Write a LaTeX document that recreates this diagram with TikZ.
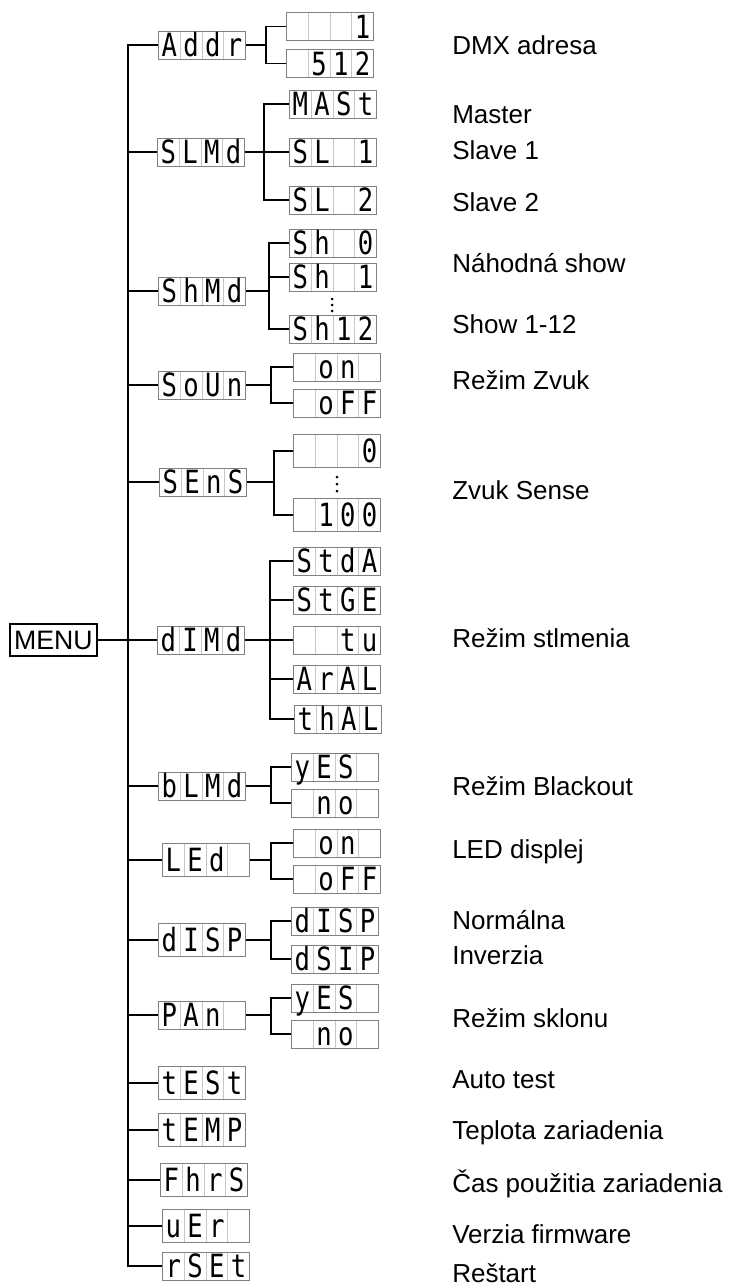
\documentclass[tikz,border=0pt]{standalone}
\usepackage{fontspec}
\setmainfont{Liberation Sans}
\newfontfamily\lcdfont[FakeStretch=0.8]{DejaVu Sans Mono}
\usepackage{tikz}
\usetikzlibrary{calc,positioning}

% one display: four cells, one character in each
\newcommand{\cells}[4]{\makebox[16.3pt]{#1}\makebox[16.3pt]{#2}\makebox[16.3pt]{#3}\makebox[16.3pt]{#4}}

\tikzset{
  lcd/.style={draw=black!50, line width=0.7pt, inner sep=0pt, anchor=west,
    minimum width=65.25pt, minimum height=21pt,
    font=\lcdfont\fontsize{24}{24}\selectfont, text height=18.2pt, text depth=0.7pt,
    path picture={
      \foreach \k in {1,2,3}
        \draw[black!22, line width=0.7pt]
          ($(path picture bounding box.south west)!\k/4!(path picture bounding box.south east)$) --
          ($(path picture bounding box.north west)!\k/4!(path picture bounding box.north east)$);
    }},
  tall/.style={minimum height=25pt},
  trunk/.style={line width=1.7pt, line join=miter},
  branch/.style={line width=1.2pt},
  lbl/.style={anchor=base west, inner sep=0pt, font=\fontsize{19.5}{23}\selectfont}
}

\begin{document}
\begin{tikzpicture}[x=0.75pt, y=-0.75pt]
  \useasboundingbox (0,0) rectangle (731,1288);

  \node[draw, line width=0.9pt, minimum width=65.25pt, minimum height=24pt, inner sep=0pt,
    font=\fontsize{20}{20}\selectfont] (MENU) at (53.5,640) {MENU};
  \coordinate (spine) at (128,0);

  % first level
  \node[lcd] (Addr) at (158,45) {\cells{A}{d}{d}{r}};
  \node[lcd] (SLMd) at (157,152) {\cells{S}{L}{M}{d}};
  \node[lcd] (ShMd) at (158,291) {\cells{S}{h}{M}{d}};
  \node[lcd] (SoUn) at (158,385) {\cells{S}{o}{U}{n}};
  \node[lcd] (SEnS) at (159,482) {\cells{S}{E}{n}{S}};
  \node[lcd] (dIMd) at (157,640) {\cells{d}{I}{M}{d}};
  \node[lcd] (bLMd) at (158,786) {\cells{b}{L}{M}{d}};
  \node[lcd,tall] (LEd) at (162,860) {\cells{L}{E}{d}{}};
  \node[lcd,tall] (dISP) at (158,940) {\cells{d}{I}{S}{P}};
  \node[lcd] (PAn) at (158,1015) {\cells{P}{A}{n}{}};
  \node[lcd,tall] (tESt) at (158,1083) {\cells{t}{E}{S}{t}};
  \node[lcd,tall] (tEMP) at (158,1130) {\cells{t}{E}{M}{P}};
  \node[lcd,tall] (FhrS) at (160,1180) {\cells{F}{h}{r}{S}};
  \node[lcd,tall] (uEr) at (162,1226) {\cells{u}{E}{r}{}};
  \node[lcd] (rSEt) at (162,1266) {\cells{r}{S}{E}{t}};

  % second level
  \node[lcd] (adr1) at (286,26.5) {\cells{}{}{}{1}};
  \node[lcd] (adr512) at (286,63.5) {\cells{}{5}{1}{2}};
  \node[lcd] (MASt) at (289,104) {\cells{M}{A}{S}{t}};
  \node[lcd] (SL1) at (289,152) {\cells{S}{L}{}{1}};
  \node[lcd] (SL2) at (289,200) {\cells{S}{L}{}{2}};
  \node[lcd] (Sh0) at (289,243) {\cells{S}{h}{}{0}};
  \node[lcd] (Sh1) at (289,277) {\cells{S}{h}{}{1}};
  \node[lcd] (Sh12) at (289,329) {\cells{S}{h}{1}{2}};
  \node[lcd] (snOn) at (293,367) {\cells{}{o}{n}{}};
  \node[lcd] (snOff) at (293,403) {\cells{}{o}{F}{F}};
  \node[lcd,tall] (sens0) at (293,451) {\cells{}{}{}{0}};
  \node[lcd,tall] (sens100) at (293,515) {\cells{}{1}{0}{0}};
  \node[lcd] (StdA) at (293,561) {\cells{S}{t}{d}{A}};
  \node[lcd] (StGE) at (293,600) {\cells{S}{t}{G}{E}};
  \node[lcd] (tu) at (293,640) {\cells{}{}{t}{u}};
  \node[lcd] (ArAL) at (293,679) {\cells{A}{r}{A}{L}};
  \node[lcd] (thAL) at (294,719) {\cells{t}{h}{A}{L}};
  \node[lcd] (blYes) at (291,767) {\cells{y}{E}{S}{}};
  \node[lcd] (blNo) at (291,803) {\cells{}{n}{o}{}};
  \node[lcd] (ledOn) at (293,843) {\cells{}{o}{n}{}};
  \node[lcd] (ledOff) at (293,879) {\cells{}{o}{F}{F}};
  \node[lcd] (dispN) at (291,921) {\cells{d}{I}{S}{P}};
  \node[lcd] (dispI) at (291,959) {\cells{d}{S}{I}{P}};
  \node[lcd] (panYes) at (291,998) {\cells{y}{E}{S}{}};
  \node[lcd] (panNo) at (291,1034) {\cells{}{n}{o}{}};

  % dots
  \fill (332,299) circle (1.5);
  \fill (332,305) circle (1.5);
  \fill (332,311) circle (1.5);
  \fill (337,477) circle (1.5);
  \fill (337,484) circle (1.5);
  \fill (337,491) circle (1.5);

  % trunk and first level branches
  \draw[trunk] (Addr.west) -- (Addr.west -| spine) -- (rSEt.west -| spine) -- (rSEt.west);
  \draw[branch] (MENU.east) -- (dIMd.west);
  \draw[branch] (SLMd.west) -- (SLMd.west -| spine);
  \draw[branch] (ShMd.west) -- (ShMd.west -| spine);
  \draw[branch] (SoUn.west) -- (SoUn.west -| spine);
  \draw[branch] (SEnS.west) -- (SEnS.west -| spine);
  \draw[branch] (bLMd.west) -- (bLMd.west -| spine);
  \draw[branch] (LEd.west) -- (LEd.west -| spine);
  \draw[branch] (dISP.west) -- (dISP.west -| spine);
  \draw[branch] (PAn.west) -- (PAn.west -| spine);
  \draw[branch] (tESt.west) -- (tESt.west -| spine);
  \draw[branch] (tEMP.west) -- (tEMP.west -| spine);
  \draw[branch] (FhrS.west) -- (FhrS.west -| spine);
  \draw[branch] (uEr.west) -- (uEr.west -| spine);

  % second level branches
  \draw[branch] (Addr.east) -- ++(20,0) coordinate (jAddr) |- (adr1.west);
  \draw[branch] (jAddr) |- (adr512.west);
  \draw[branch] (SLMd.east) -- ++(19,0) coordinate (jSLMd) |- (MASt.west);
  \draw[branch] (jSLMd) |- (SL1.west);
  \draw[branch] (jSLMd) |- (SL2.west);
  \draw[branch] (ShMd.east) -- ++(23,0) coordinate (jShMd) |- (Sh0.west);
  \draw[branch] (jShMd) |- (Sh1.west);
  \draw[branch] (jShMd) |- (Sh12.west);
  \draw[branch] (SoUn.east) -- ++(25,0) coordinate (jSoUn) |- (snOn.west);
  \draw[branch] (jSoUn) |- (snOff.west);
  \draw[branch] (SEnS.east) -- ++(27,0) coordinate (jSEnS) |- (sens0.west);
  \draw[branch] (jSEnS) |- (sens100.west);
  \draw[branch] (dIMd.east) -- ++(25,0) coordinate (jdIMd) |- (StdA.west);
  \draw[branch] (jdIMd) |- (StGE.west);
  \draw[branch] (jdIMd) |- (tu.west);
  \draw[branch] (jdIMd) |- (ArAL.west);
  \draw[branch] (jdIMd) |- (thAL.west);
  \draw[branch] (bLMd.east) -- ++(25,0) coordinate (jbLMd) |- (blYes.west);
  \draw[branch] (jbLMd) |- (blNo.west);
  \draw[branch] (LEd.east) -- ++(21,0) coordinate (jLEd) |- (ledOn.west);
  \draw[branch] (jLEd) |- (ledOff.west);
  \draw[branch] (dISP.east) -- ++(25,0) coordinate (jdISP) |- (dispN.west);
  \draw[branch] (jdISP) |- (dispI.west);
  \draw[branch] (PAn.east) -- ++(25,0) coordinate (jPAn) |- (panYes.west);
  \draw[branch] (jPAn) |- (panNo.west);

  % descriptions
  \node[lbl] (tAddr) at (452,55) {DMX adresa};
  \node[lbl] (tMaster) at (452,123) {Master};
  \node[lbl] (tSlave1) at (452,159) {Slave 1};
  \node[lbl] (tSlave2) at (452,211) {Slave 2};
  \node[lbl] (tRandom) at (452,272) {Náhodná show};
  \node[lbl] (tShow) at (452,333) {Show 1-12};
  \node[lbl] (tSound) at (452,389) {Režim Zvuk};
  \node[lbl] (tSense) at (452,499) {Zvuk Sense};
  \node[lbl] (tDim) at (452,647) {Režim stlmenia};
  \node[lbl] (tBlack) at (452,795) {Režim Blackout};
  \node[lbl] (tLed) at (452,858) {LED displej};
  \node[lbl] (tNorm) at (452,929) {Normálna};
  \node[lbl] (tInv) at (452,964) {Inverzia};
  \node[lbl] (tPan) at (452,1027) {Režim sklonu};
  \node[lbl] (tTest) at (452,1088) {Auto test};
  \node[lbl] (tTemp) at (452,1139) {Teplota zariadenia};
  \node[lbl] (tHours) at (452,1192) {Čas použitia zariadenia};
  \node[lbl] (tVer) at (452,1243) {Verzia firmware};
  \node[lbl] (tReset) at (452,1282) {Reštart};
\end{tikzpicture}
\end{document}
